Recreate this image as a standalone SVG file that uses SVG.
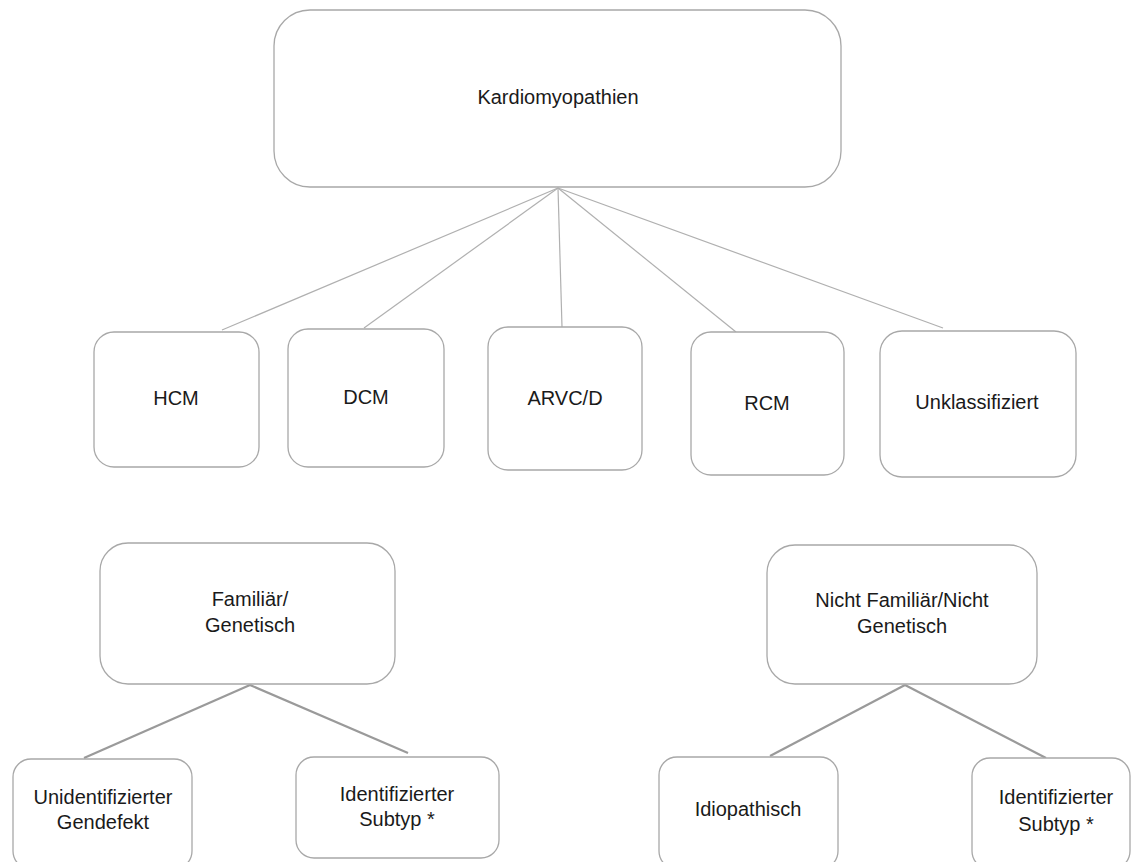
<svg xmlns="http://www.w3.org/2000/svg" width="1134" height="862" viewBox="0 0 1134 862">
<style>
.box{fill:#fff;stroke:#a8a8a8;stroke-width:1.3}
.t{font-family:"Liberation Sans",Arial,sans-serif;font-size:20px;fill:#1a1a1a;text-anchor:middle}
.thin{stroke:#b0b0b0;stroke-width:1.2;fill:none}
.thick{stroke:#9a9a9a;stroke-width:2.2;fill:none}
</style>
<rect width="1134" height="862" fill="#fff"/>
<g id="connectors">
<line class="thin" x1="558" y1="188" x2="222" y2="330"/>
<line class="thin" x1="558" y1="188" x2="364" y2="328"/>
<line class="thin" x1="558" y1="188" x2="562" y2="327"/>
<line class="thin" x1="558" y1="188" x2="736" y2="332"/>
<line class="thin" x1="558" y1="188" x2="943" y2="328"/>
<line class="thick" x1="250" y1="685" x2="84" y2="758"/>
<line class="thick" x1="250" y1="685" x2="408" y2="753"/>
<line class="thick" x1="905" y1="685" x2="770" y2="756"/>
<line class="thick" x1="905" y1="685" x2="1046" y2="758"/>
</g>
<g id="kardiomyopathien"><rect class="box" x="274" y="10" width="567" height="177" rx="36"/><text class="t" x="558" y="104">Kardiomyopathien</text></g>
<g id="hcm"><rect class="box" x="94" y="332" width="165" height="135" rx="20"/><text class="t" x="176" y="405">HCM</text></g>
<g id="dcm"><rect class="box" x="288" y="329" width="156" height="138" rx="20"/><text class="t" x="366" y="404">DCM</text></g>
<g id="arvcd"><rect class="box" x="488" y="327" width="154" height="143" rx="20"/><text class="t" x="565" y="405">ARVC/D</text></g>
<g id="rcm"><rect class="box" x="691" y="332" width="153" height="143" rx="20"/><text class="t" x="767" y="410">RCM</text></g>
<g id="unklassifiziert"><rect class="box" x="880" y="331" width="196" height="146" rx="22"/><text class="t" x="977" y="409">Unklassifiziert</text></g>
<g id="familiaer"><rect class="box" x="100" y="543" width="295" height="141" rx="28"/><text class="t" x="250" y="606">Familiär/</text><text class="t" x="250" y="632">Genetisch</text></g>
<g id="nichtfamiliaer"><rect class="box" x="767" y="545" width="270" height="139" rx="28"/><text class="t" x="902" y="607">Nicht Familiär/Nicht</text><text class="t" x="902" y="633">Genetisch</text></g>
<g id="unidentifiziert"><rect class="box" x="13" y="759" width="179" height="110" rx="18"/><text class="t" x="103" y="804">Unidentifizierter</text><text class="t" x="103" y="829">Gendefekt</text></g>
<g id="identifiziert1"><rect class="box" x="296" y="757" width="203" height="101" rx="18"/><text class="t" x="397" y="801">Identifizierter</text><text class="t" x="397" y="826">Subtyp *</text></g>
<g id="idiopathisch"><rect class="box" x="659" y="757" width="179" height="112" rx="18"/><text class="t" x="748" y="816">Idiopathisch</text></g>
<g id="identifiziert2"><rect class="box" x="972" y="758" width="158" height="111" rx="18"/><text class="t" x="1056" y="804">Identifizierter</text><text class="t" x="1056" y="831">Subtyp *</text></g>
</svg>
